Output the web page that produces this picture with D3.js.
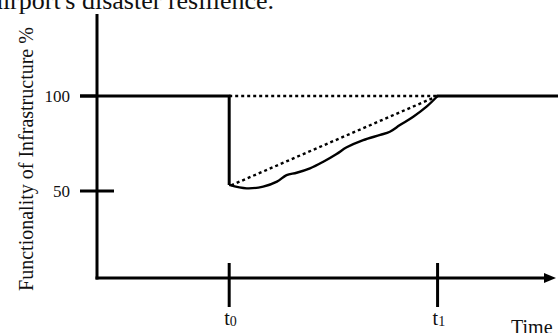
<!DOCTYPE html>
<html>
<head>
<meta charset="utf-8">
<script src="https://cdn.jsdelivr.net/npm/d3@7"></script>
<style>
  html, body { margin: 0; padding: 0; background: #fff; overflow: hidden; }
  svg { display: block; }
  text { font-family: "Liberation Serif", "Times New Roman", serif; fill: #111; }
</style>
</head>
<body>
<svg id="chart" width="558" height="333"></svg>
<script>
/* ─── Data ───────────────────────────────────────────────────────────────── */

// y-axis tick values (functionality %)
const yTicks = [100, 50];

// named points on the time axis
const timeLabels = ['0', '1'];
const timeValues = [28.8, 74.2];

// level before the event and the drop right after it
const fullLevel = 100;
const dropLevel = 53;

// recovery curve (time, functionality %)
const recoveryTime = [28.8, 32.6, 36.2, 39.2, 41.3, 43.5, 46.4, 49.3, 52.2, 54.4, 58.0, 61.7, 63.8, 66.0, 68.9, 71.8, 74.2];
const recoveryFunc = [53.2, 51.4, 52.3, 54.9, 58.4, 59.6, 61.9, 65.4, 69.5, 73.0, 76.8, 79.5, 81.2, 84.7, 89.1, 94.4, 100];

/* ─── Layout ─────────────────────────────────────────────────────────────── */

const W = 558, H = 333;
const x = d3.scaleLinear().domain([0, 100]).range([97, 556]);
const y = d3.scaleLinear().domain([0, 100]).range([286, 96]);
const axisTop = 14, axisBottom = 278;
const STROKE = 3;

const svg = d3.select('#chart');

/* ─── Caption fragment at the top (cut off in the source) ────────────────── */

svg.append('text')
  .attr('x', 274).attr('y', 9)
  .attr('text-anchor', 'end')
  .style('font-size', '26px')
  .text("airport's disaster resilience.");

/* ─── Axes ───────────────────────────────────────────────────────────────── */

const axes = svg.append('g').attr('stroke', '#000').attr('stroke-width', STROKE).attr('fill', 'none');

axes.append('line')
  .attr('x1', x(0)).attr('x2', x(0))
  .attr('y1', axisTop).attr('y2', axisBottom + STROKE / 2);

axes.append('line')
  .attr('x1', x(0) - STROKE / 2).attr('x2', x(100) - 8)
  .attr('y1', axisBottom).attr('y2', axisBottom);

// arrow head on the time axis
svg.append('path')
  .attr('d', `M${x(100)},${axisBottom} L${x(100) - 12},${axisBottom - 5} L${x(100) - 12},${axisBottom + 5} Z`)
  .attr('fill', '#000');

// cross ticks on the y axis
axes.selectAll('.ytick')
  .data(yTicks)
  .join('line')
  .attr('class', 'ytick')
  .attr('x1', x(0) - 17).attr('x2', d => d === fullLevel ? x(0) : x(0) + 17)
  .attr('y1', d => y(d)).attr('y2', d => y(d));

svg.selectAll('.ylabel')
  .data(yTicks)
  .join('text')
  .attr('class', 'ylabel')
  .attr('x', 70).attr('y', d => y(d))
  .attr('dy', '0.35em')
  .attr('text-anchor', 'end')
  .style('font-size', '17px')
  .text(d => d);

// cross ticks on the time axis
axes.selectAll('.xtick')
  .data(timeValues)
  .join('line')
  .attr('class', 'xtick')
  .attr('x1', d => x(d)).attr('x2', d => x(d))
  .attr('y1', axisBottom - 15).attr('y2', axisBottom + 29);

const tl = svg.selectAll('.xlabel')
  .data(timeValues)
  .join('text')
  .attr('class', 'xlabel')
  .attr('x', d => x(d) - 5).attr('y', 325)
  .style('font-size', '20px');
tl.append('tspan').text('t');
tl.append('tspan')
  .attr('dy', 1)
  .style('font-size', '14px')
  .text((d, i) => timeLabels[i]);

// axis title sits partly below the visible frame, as in the source
svg.append('text')
  .attr('x', 511).attr('y', 334)
  .style('font-size', '20px')
  .text('Time');

svg.append('text')
  .attr('transform', `translate(33,${(28 + 290) / 2}) rotate(-90)`)
  .attr('text-anchor', 'middle')
  .style('font-size', '20px')
  .text('Functionality of Infrastructure %');

/* ─── Functionality line ─────────────────────────────────────────────────── */

const [t0, t1] = timeValues;
const plot = svg.append('g').attr('fill', 'none').attr('stroke', '#000');

// reference (dotted) lines
plot.append('line')
  .attr('x1', x(t0)).attr('x2', x(t1))
  .attr('y1', y(fullLevel)).attr('y2', y(fullLevel))
  .attr('stroke-width', 2.4)
  .attr('stroke-dasharray', '3,3');

plot.append('line')
  .attr('x1', x(t0) + 2).attr('x2', x(t1))
  .attr('y1', y(dropLevel)).attr('y2', y(fullLevel))
  .attr('stroke-width', 2.4)
  .attr('stroke-dasharray', '3,3');

// solid: full level, drop, then back to full after recovery
plot.append('path')
  .attr('stroke-width', STROKE)
  .attr('d', d3.line()([
    [x(0) - 17, y(fullLevel)], [x(t0), y(fullLevel)], [x(t0), y(recoveryFunc[0])]
  ]));

plot.append('path')
  .attr('stroke-width', 2.4)
  .attr('d', d3.line()
    .x((d, i) => x(recoveryTime[i]))
    .y(d => y(d))
    .curve(d3.curveCatmullRom)(recoveryFunc));

plot.append('line')
  .attr('stroke-width', STROKE)
  .attr('x1', x(t1) - 1).attr('x2', W)
  .attr('y1', y(fullLevel)).attr('y2', y(fullLevel));
</script>
</body>
</html>
